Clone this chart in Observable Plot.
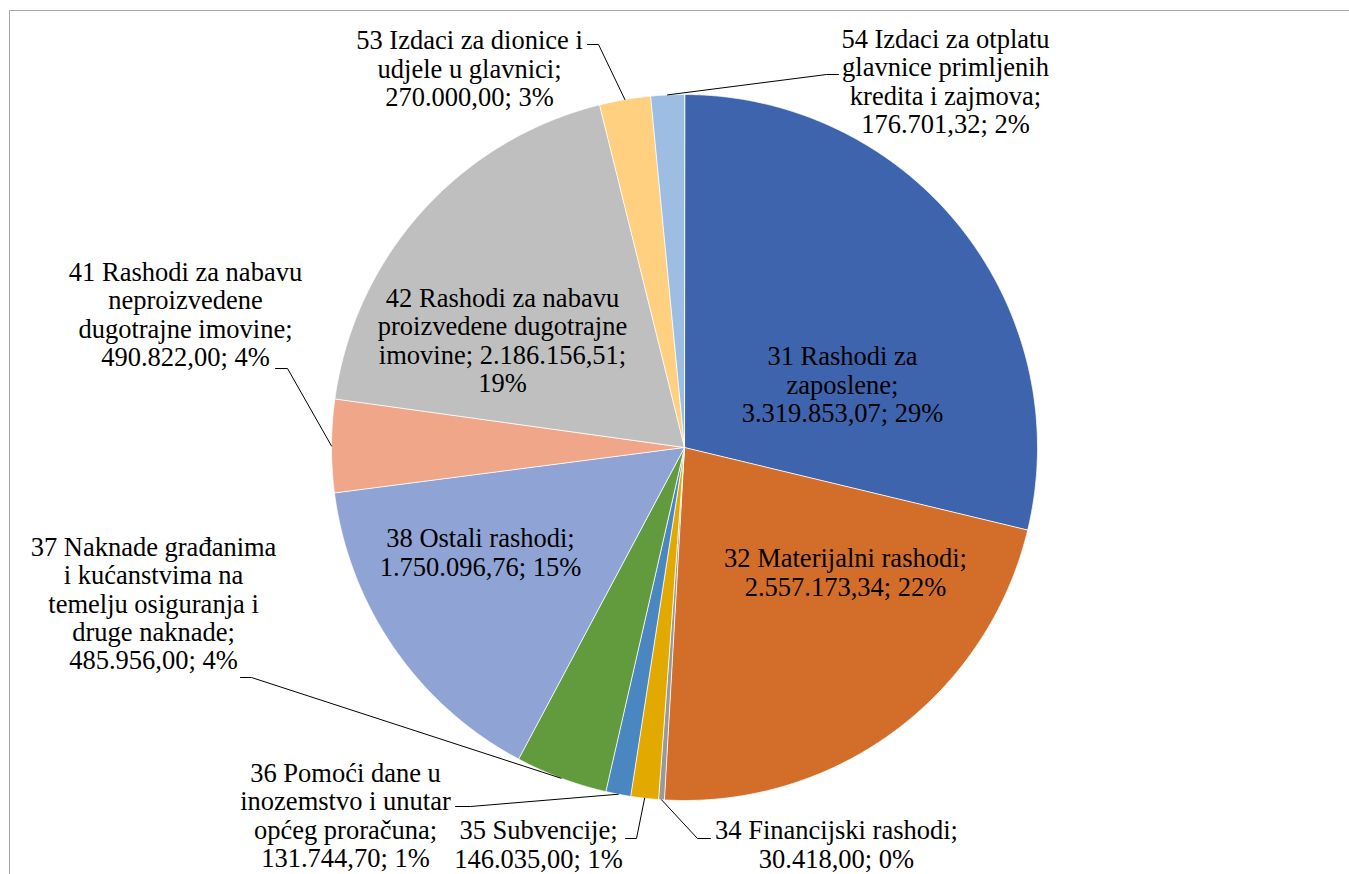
<!DOCTYPE html>
<html><head><meta charset="utf-8">
<script src="https://cdn.jsdelivr.net/npm/d3@7"></script>
<script src="https://cdn.jsdelivr.net/npm/@observablehq/plot@0.6"></script>
<style>
html,body{margin:0;padding:0;background:#fff;overflow:hidden}
#wrap{position:relative;width:1349px;height:874px}
#frame{position:absolute;left:9px;top:10px;width:1400px;height:900px;border-left:1.5px solid #a8a8a8;border-top:1.5px solid #a8a8a8;pointer-events:none}
#chart svg, #chart svg text{font-family:"Liberation Serif","Times New Roman",serif !important}
</style></head><body>
<div id="wrap"><div id="chart"></div><div id="frame"></div></div>
<script>
// ---- data ----
const codes = ["31","32","34","35","36","37","38","41","42","53","54"];
const names = [
  "Rashodi za zaposlene",
  "Materijalni rashodi",
  "Financijski rashodi",
  "Subvencije",
  "Pomoći dane u inozemstvo i unutar općeg proračuna",
  "Naknade građanima i kućanstvima na temelju osiguranja i druge naknade",
  "Ostali rashodi",
  "Rashodi za nabavu neproizvedene dugotrajne imovine",
  "Rashodi za nabavu proizvedene dugotrajne imovine",
  "Izdaci za dionice i udjele u glavnici",
  "Izdaci za otplatu glavnice primljenih kredita i zajmova"
];
const values = [3319853.07, 2557173.34, 30418.00, 146035.00, 131744.70, 485956.00, 1750096.76, 490822.00, 2186156.51, 270000.00, 176701.32];
const percents = [29, 22, 0, 1, 1, 4, 15, 4, 19, 3, 2];
const colors = ["#3d64ad","#d36e2a","#999999","#e2aa00","#4a86c0","#629b3d","#8fa3d5","#f0a789","#bfbfbf","#ffd07f","#9dbde3"];

// ---- layout ----
const W = 1349, H = 874;
const cx = 684, cy = 447, R = 353;
const FONT = 26.5;
const labelLayout = [
  {x: 842, y: 384, breaks: [3,1,2]},     // 31
  {x: 845, y: 572, breaks: [3,2]},       // 32
  {x: 836, y: 844, breaks: [3,2]},       // 34
  {x: 538, y: 844, breaks: [2,2]},       // 35
  {x: 345, y: 815, breaks: [4,3,2,2]},   // 36
  {x: 153, y: 603, breaks: [3,3,3,2,2]}, // 37
  {x: 480, y: 552, breaks: [3,2]},       // 38
  {x: 185, y: 314, breaks: [4,1,2,2]},   // 41
  {x: 502, y: 340, breaks: [4,2,2,1]},   // 42
  {x: 469, y: 68,  breaks: [5,3,2]},     // 53
  {x: 945, y: 81,  breaks: [4,2,3,2]}    // 54
];
const leaderAnchors = {
  "34": [[710,838],[697,838]],
  "35": [[625,838],[636,838]],
  "36": [[455,806],[470,806]],
  "37": [[240,677],[251,677]],
  "41": [[275,368],[287,368]],
  "53": [[587,44],[598,44]],
  "54": [[838,74],[826,74]]
};

// ---- derived ----
const hr = d3.formatLocale({decimal: ",", thousands: ".", grouping: [3], currency: ["", ""]});
const fmt = hr.format(",.2f");
const arcs = d3.pie().sort(null).value(d => d)(values);

const slicePts = [];
arcs.forEach((a, i) => {
  const key = codes[i];
  slicePts.push({key, x: cx, y: cy});
  const n = Math.max(2, Math.ceil((a.endAngle - a.startAngle) / 0.003));
  for (let j = 0; j <= n; j++) {
    const t = a.startAngle + (a.endAngle - a.startAngle) * j / n;
    slicePts.push({key, x: cx + R * Math.sin(t), y: cy - R * Math.cos(t)});
  }
});

const labels = codes.map((c, i) => {
  const words = `${c} ${names[i]}; ${fmt(values[i])}; ${percents[i]}%`.split(" ");
  const lines = [];
  let k = 0;
  for (const n of labelLayout[i].breaks) { lines.push(words.slice(k, k + n).join(" ")); k += n; }
  return {key: c, x: labelLayout[i].x, y: labelLayout[i].y, text: lines.join("\n")};
});

const leaderPts = [];
codes.forEach((c, i) => {
  if (!leaderAnchors[c]) return;
  const mid = (arcs[i].startAngle + arcs[i].endAngle) / 2;
  for (const [x, y] of leaderAnchors[c]) leaderPts.push({key: c, x, y});
  leaderPts.push({key: c, x: cx + R * Math.sin(mid), y: cy - R * Math.cos(mid)});
});

const serif = "'Liberation Serif', 'Times New Roman', serif";
const chart = Plot.plot({
  width: W, height: H,
  margin: 0,
  x: {domain: [0, W], range: [0, W], axis: null},
  y: {domain: [0, H], range: [0, H], axis: null},
  color: {domain: codes, range: colors},
  style: {background: "transparent", fontFamily: serif},
  marks: [
    Plot.line(slicePts, {x: "x", y: "y", z: "key", fill: "key", stroke: "white", strokeWidth: 0.8, curve: "linear-closed"}),
    Plot.line(leaderPts, {x: "x", y: "y", z: "key", stroke: "black", strokeWidth: 1}),
    Plot.text(labels, {x: "x", y: "y", text: "text", fontSize: FONT, fontFamily: serif,
      lineHeight: 1.07, textAnchor: "middle", lineAnchor: "middle", fill: "black"})
  ]
});
document.getElementById("chart").appendChild(chart);
</script></body></html>
